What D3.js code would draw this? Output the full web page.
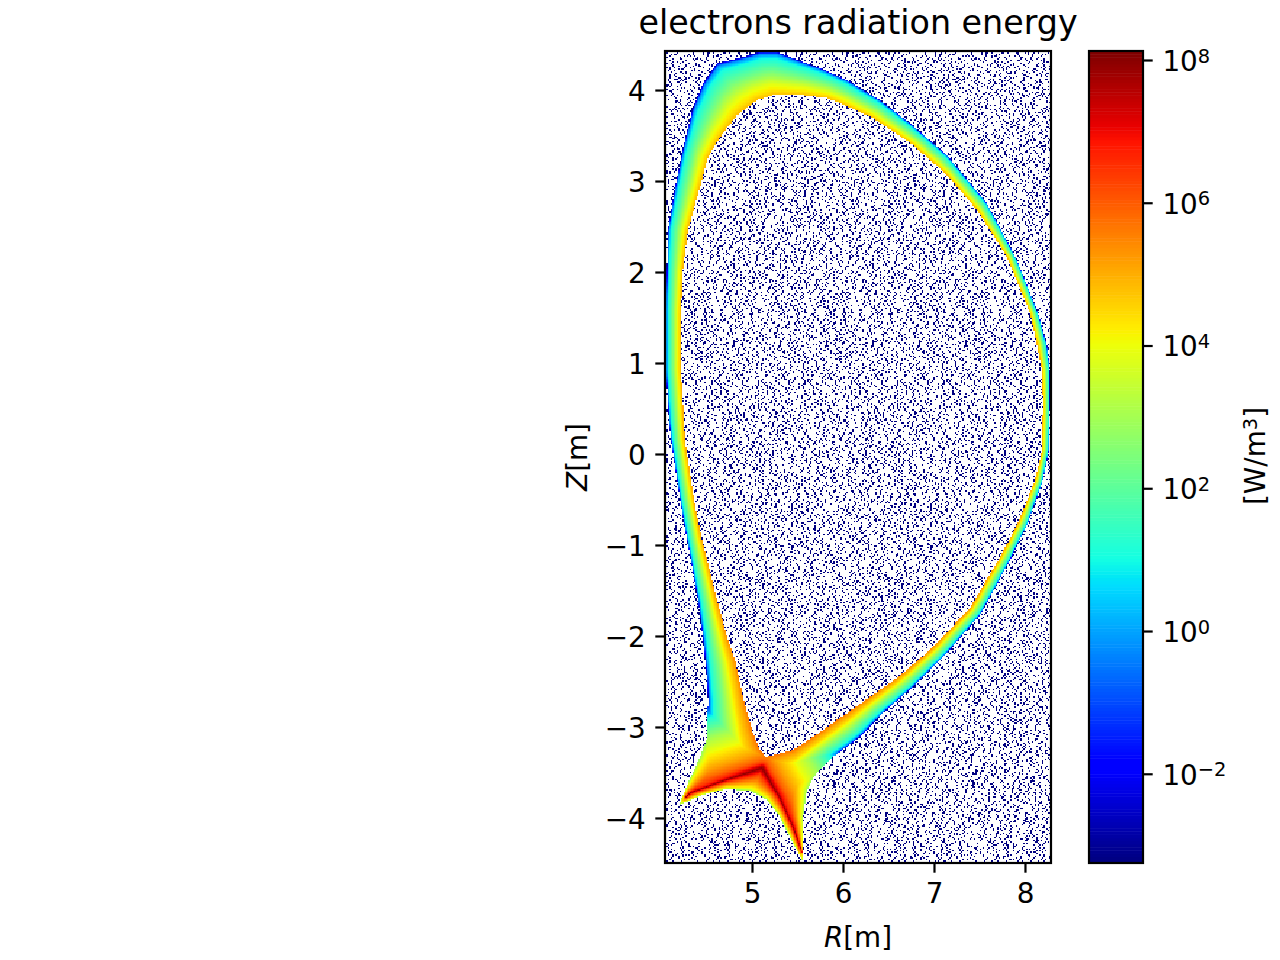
<!DOCTYPE html>
<html>
<head>
<meta charset="utf-8">
<script src="https://cdn.jsdelivr.net/npm/d3@7"></script>
<style>
  html, body { margin: 0; padding: 0; background: #fff; }
  text { font-family: "DejaVu Sans", sans-serif; fill: #000; }
</style>
</head>
<body>
<script>
// tick labels
const rTicks = [5, 6, 7, 8];
const zTicks = [-4, -3, -2, -1, 0, 1, 2, 3, 4];
const cbarExps = [-2, 0, 2, 4, 6, 8];

// outer edge of the radiating region, clockwise from the inner divertor tip [m]
const outerR = [4.198,4.297,4.429,4.505,4.516,4.495,4.462,4.407,4.286,4.209,4.110,4.088,4.055,4.055,4.066,4.077,4.154,4.231,4.341,4.462,4.615,4.901,5.088,5.275,5.451,5.747,6.044,6.407,6.736,7.143,7.582,7.912,8.143,8.242,8.275,8.275,8.264,8.198,8.033,7.835,7.582,7.505,7.143,6.769,6.440,6.187,6.000,5.890,5.714,5.604,5.560,5.560,5.451,5.308,5.165,4.978,4.725,4.462];
const outerZ = [-3.857,-3.615,-3.330,-3.121,-2.703,-2.374,-2.044,-1.604,-0.945,-0.505,0.154,0.374,0.923,1.582,2.022,2.462,2.934,3.308,3.780,4.077,4.297,4.363,4.418,4.418,4.352,4.242,4.110,3.890,3.637,3.286,2.758,2.132,1.549,1.198,0.923,0.484,0.044,-0.286,-0.758,-1.165,-1.637,-1.769,-2.187,-2.560,-2.846,-3.110,-3.253,-3.330,-3.495,-3.692,-3.989,-4.484,-4.275,-3.989,-3.802,-3.703,-3.681,-3.747];

// separatrix, the edge of the empty core [m]
const coreR = [5.154,5.088,5.000,4.923,4.813,4.736,4.615,4.451,4.363,4.264,4.253,4.220,4.220,4.242,4.297,4.429,4.516,4.648,4.835,5.055,5.231,5.560,5.824,5.967,6.330,6.769,7.143,7.473,7.802,8.055,8.132,8.187,8.198,8.187,8.110,7.923,7.725,7.396,6.956,6.593,6.044,5.670,5.451];
const coreZ = [-3.330,-3.253,-3.033,-2.758,-2.264,-2.044,-1.604,-0.945,-0.505,0.154,0.374,0.923,1.582,2.022,2.462,2.934,3.264,3.484,3.725,3.890,3.945,3.945,3.912,3.857,3.692,3.396,3.066,2.681,2.165,1.549,1.198,0.923,0.560,0.044,-0.286,-0.758,-1.132,-1.692,-2.154,-2.462,-2.846,-3.110,-3.253];

// hot ridge along the divertor legs through the X point [m]
const ridgeR = [4.275,4.319,4.648,5.110,5.308,5.451,5.550];
const ridgeZ = [-3.769,-3.725,-3.604,-3.451,-3.780,-4.099,-4.374];

// log10 of the power read across the band, separatrix side (0) to outer edge (1)
const bandFrac = [0, 0.08, 0.25, 0.55, 0.85, 0.95, 0.985, 1];
const bandLog = [5.0, 4.6, 4, 2.4, 1, -0.3, -2, -3];
// log10 at the separatrix read at some heights
const sepZ = [-3.5, -2.5, -1, 1, 4.5];
const sepLog = [5.8, 5.5, 5.2, 5.1, 4.8];
// log10 read going away from the ridge, as share of the way to the edge and in px
const ridgeFrac = [0, 0.1, 0.3, 0.6, 0.9, 1];
const ridgeFracLog = [8, 7.2, 6.2, 5, 3.8, 2.8];
const ridgeDist = [0, 2, 5, 8, 15, 30, 45, 65, 90];
const ridgeDistLog = [8, 7.4, 6.4, 5.9, 5.2, 4.1, 3, 1, -5];

// floor speckle: hand typed bit rows for the empty cells at the noise level
const speckle = ["10420810","08010244","40902001","02080488","21040040","00820112","84100208","00448020","12002104","40210080","08840420","01008812","a0040100","04120840","10801204","42002009","00490180","88020420","05100042","20083100","01404804","90020410","04211002"];

const plotLeft = 665, plotRight = 1051, plotTop = 51, plotBottom = 863;
const cbLeft = 1089, cbRight = 1143;
const cellSize = 1.45;

const x = d3.scaleLinear().domain([4.044, 8.286]).range([plotLeft, plotRight]);
const y = d3.scaleLinear().domain([-4.495, 4.429]).range([plotBottom, plotTop]);
const cbar = d3.scaleLog().domain([Math.pow(10, -3.25), Math.pow(10, 8.126)]).range([plotBottom, plotTop]);

// matplotlib jet
const chR = d3.scaleLinear().domain([0, 0.35, 0.66, 0.89, 1]).range([0, 0, 255, 255, 127.5]);
const chG = d3.scaleLinear().domain([0, 0.125, 0.375, 0.64, 0.91, 1]).range([0, 0, 255, 255, 0, 0]);
const chB = d3.scaleLinear().domain([0, 0.11, 0.34, 0.65, 1]).range([127.5, 255, 255, 0, 0]);
const jet = t => "rgb(" + Math.round(chR(t)) + "," + Math.round(chG(t)) + "," + Math.round(chB(t)) + ")";
const logToLevel = d3.scaleLinear().domain([-3.25, 8.126]).range([0, 255]).clamp(true);

const svg = d3.select("body").append("svg")
  .attr("width", 1280)
  .attr("height", 960)
  .style("display", "block");

// polygons in pixels
const outerPts = outerR.map((r, i) => [x(r), y(outerZ[i])]);
const corePts = coreR.map((r, i) => [x(r), y(coreZ[i])]);
const ridgePts = ridgeR.map((r, i) => [x(r), y(ridgeZ[i])]);

function distTo(pts, closed, px, py) {
  let best = Infinity;
  const n = closed ? pts.length : pts.length - 1;
  for (let i = 0; i < n; i++) {
    const a = pts[i], b = pts[(i + 1) % pts.length];
    const dx = b[0] - a[0], dy = b[1] - a[1];
    let u = ((px - a[0]) * dx + (py - a[1]) * dy) / (dx * dx + dy * dy);
    u = Math.max(0, Math.min(1, u));
    const ex = a[0] + u * dx - px, ey = a[1] + u * dy - py;
    const d = ex * ex + ey * ey;
    if (d < best) best = d;
  }
  return Math.sqrt(best);
}

const bandAt = d3.scaleLinear().domain(bandFrac).range(bandLog);
const sepAt = d3.scaleLinear().domain(sepZ).range(sepLog).clamp(true);
const ridgeFracAt = d3.scaleLinear().domain(ridgeFrac).range(ridgeFracLog);
const ridgeDistAt = d3.scaleLinear().domain(ridgeDist).range(ridgeDistLog).clamp(true);

function fieldAt(px, py) {
  const dCore = distTo(corePts, true, px, py);
  const dOut = distTo(outerPts, true, px, py);
  const dRidge = distTo(ridgePts, false, px, py);
  const t = dCore / (dCore + dOut);
  const band = bandAt(t) + (sepAt(y.invert(py)) - 5.0) * (1 - t);
  const tr = dRidge / (dRidge + dOut);
  return Math.max(band, Math.min(ridgeFracAt(tr), ridgeDistAt(dRidge)));
}

function speckleOn(row, col) {
  const a = parseInt(speckle[row % 23], 16);
  const b = parseInt(speckle[(row * 3 + 5) % 23], 16);
  const ca = (col + row * row * 5 + row * 3) % 32;
  const cb = (col + row * row * 11 + 5) % 32;
  if ((a >>> ca) & 1) return true;
  return (row + col) % 3 === 0 && ((b >>> cb) & 1) === 1;
}

// one path per colour level, like the cells of a pcolormesh
const nCols = Math.ceil((plotRight - plotLeft) / cellSize);
const nRows = Math.ceil((plotBottom - plotTop) / cellSize);
const paths = d3.range(256).map(() => []);
for (let r = 0; r < nRows; r++) {
  for (let c = 0; c < nCols; c++) {
    const px = plotLeft + c * cellSize, py = plotTop + r * cellSize;
    const cx = px + cellSize / 2, cy = py + cellSize / 2;
    let level = -1;
    if (d3.polygonContains(outerPts, [cx, cy]) && !d3.polygonContains(corePts, [cx, cy])) {
      level = Math.round(logToLevel(fieldAt(cx, cy)));
    } else if (speckleOn(r, c)) {
      level = 0;
    }
    if (level >= 0) {
      paths[level].push("M" + px.toFixed(2) + " " + py.toFixed(2) + "h" + cellSize + "v" + cellSize + "h" + (-cellSize) + "z");
    }
  }
}

svg.append("clipPath").attr("id", "plotClip")
  .append("rect")
  .attr("x", plotLeft).attr("y", plotTop)
  .attr("width", plotRight - plotLeft).attr("height", plotBottom - plotTop);

svg.append("g")
  .attr("clip-path", "url(#plotClip)")
  .selectAll("path")
  .data(paths.map((d, i) => ({ level: i, d: d.join("") })).filter(d => d.d.length > 0))
  .enter()
  .append("path")
  .attr("d", d => d.d)
  .attr("fill", d => jet(d.level / 255))
  .attr("shape-rendering", "crispEdges");

// colorbar
const cbLogs = d3.range(256).map(i => -3.25 + (8.126 + 3.25) * i / 256);
svg.append("g").selectAll("rect")
  .data(cbLogs)
  .enter()
  .append("rect")
  .attr("x", cbLeft)
  .attr("width", cbRight - cbLeft)
  .attr("y", d => cbar(Math.pow(10, d + 11.376 / 256)))
  .attr("height", (plotBottom - plotTop) / 256 + 0.5)
  .attr("fill", (d, i) => jet(i / 255));

// frames
[[plotLeft, plotRight], [cbLeft, cbRight]].forEach(function(p) {
  svg.append("rect")
    .attr("x", p[0]).attr("y", plotTop)
    .attr("width", p[1] - p[0]).attr("height", plotBottom - plotTop)
    .attr("fill", "none")
    .attr("stroke", "#000")
    .attr("stroke-width", 2.2);
});

const fontSize = 27.8;
const styleAxis = function(g) {
  g.select(".domain").remove();
  g.selectAll(".tick line").attr("stroke", "#000").attr("stroke-width", 2.2);
  g.selectAll("text").style("font-size", fontSize + "px").style("font-family", '"DejaVu Sans", sans-serif');
};

svg.append("g")
  .attr("transform", "translate(0," + plotBottom + ")")
  .call(d3.axisBottom(x).tickValues(rTicks).tickSize(9.7).tickPadding(11).tickFormat(d3.format("d")))
  .call(styleAxis);

svg.append("g")
  .attr("transform", "translate(" + plotLeft + ",0)")
  .call(d3.axisLeft(y).tickValues(zTicks).tickSize(9.7).tickPadding(9.7).tickFormat(d3.format("d")))
  .call(styleAxis)
  .selectAll(".tick text").attr("dy", "0.37em");

const cbAxis = svg.append("g")
  .attr("transform", "translate(" + cbRight + ",0)")
  .call(d3.axisRight(cbar).tickValues(cbarExps.map(e => Math.pow(10, e))).tickSize(9.7).tickPadding(9.7).tickFormat(""))
  .call(styleAxis);

cbAxis.selectAll(".tick text").each(function(d, i) {
  const t = d3.select(this);
  t.text(null);
  t.attr("dy", "0.37em");
  t.append("tspan").text("10");
  t.append("tspan")
    .attr("dy", "-0.42em")
    .style("font-size", (fontSize * 0.7) + "px")
    .text(String(cbarExps[i]).replace("-", "\u2212"));
});

// titles
svg.append("text")
  .attr("x", (plotLeft + plotRight) / 2).attr("y", 34)
  .attr("text-anchor", "middle")
  .style("font-size", "33.3px")
  .text("electrons radiation energy");

const xLabel = svg.append("text")
  .attr("x", (plotLeft + plotRight) / 2).attr("y", 947)
  .attr("text-anchor", "middle")
  .style("font-size", fontSize + "px");
xLabel.append("tspan").style("font-style", "italic").text("R");
xLabel.append("tspan").text("[m]");

const yLabel = svg.append("text")
  .attr("transform", "translate(587,457) rotate(-90)")
  .attr("text-anchor", "middle")
  .style("font-size", fontSize + "px");
yLabel.append("tspan").style("font-style", "italic").text("Z");
yLabel.append("tspan").text("[m]");

const cbLabel = svg.append("text")
  .attr("transform", "translate(1265,456) rotate(-90)")
  .attr("text-anchor", "middle")
  .style("font-size", fontSize + "px");
cbLabel.append("tspan").text("[W/m");
cbLabel.append("tspan")
  .attr("dy", "-0.42em")
  .style("font-size", (fontSize * 0.7) + "px")
  .text("3");
cbLabel.append("tspan").attr("dy", "0.29em").text("]");
</script>
</body>
</html>
